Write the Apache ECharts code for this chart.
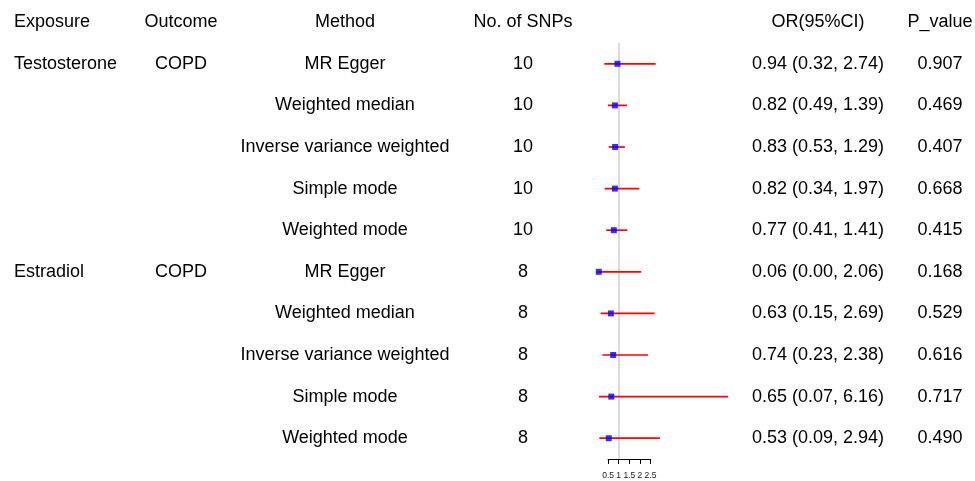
<!DOCTYPE html>
<html>
<head>
<meta charset="utf-8">
<script src="https://cdn.jsdelivr.net/npm/echarts@6/dist/echarts.min.js"></script>
<style>html,body{margin:0;padding:0;background:#fff}#c{width:975px;height:481px}</style>
</head>
<body>
<div id="c"></div>
<script>
const headers = ['Exposure', 'Outcome', 'Method', 'No. of SNPs', 'OR(95%CI)', 'P_value'];
const exposure = ['Testosterone', '', '', '', '', 'Estradiol', '', '', '', ''];
const outcome = ['COPD', '', '', '', '', 'COPD', '', '', '', ''];
const method = ['MR Egger', 'Weighted median', 'Inverse variance weighted', 'Simple mode', 'Weighted mode',
                'MR Egger', 'Weighted median', 'Inverse variance weighted', 'Simple mode', 'Weighted mode'];
const nsnp = ['10', '10', '10', '10', '10', '8', '8', '8', '8', '8'];
const orVal = [0.94, 0.82, 0.83, 0.82, 0.77, 0.06, 0.63, 0.74, 0.65, 0.53];
const ciLow = [0.32, 0.49, 0.53, 0.34, 0.41, 0.00, 0.15, 0.23, 0.07, 0.09];
const ciHigh = [2.74, 1.39, 1.29, 1.97, 1.41, 2.06, 2.69, 2.38, 6.16, 2.94];
const pval = ['0.907', '0.469', '0.407', '0.668', '0.415', '0.168', '0.529', '0.616', '0.717', '0.490'];
const xTicks = [0.5, 1, 1.5, 2, 2.5];

const orText = orVal.map((v, i) => v.toFixed(2) + ' (' + ciLow[i].toFixed(2) + ', ' + ciHigh[i].toFixed(2) + ')');
const rows = orVal.map((_, i) => String(i));

const FONT = '"Liberation Sans", Arial, Helvetica, sans-serif';
const FS = 18;

// forest panel layout (1 unit = 21.2 px, x = 0 at 597.5 px)
const X0 = 597.5, UNIT = 21.2, XMAX = 7;
const TOP = 43, HEIGHT = 416;
const gridRight = X0 + XMAX * UNIT;

function textAxis(arr, pos, anchorX, align) {
  const offset = pos === 'left' ? X0 - anchorX : anchorX - gridRight;
  return {
    type: 'category', gridIndex: 0, data: rows, inverse: true, position: pos, offset: offset,
    axisLine: {show: false}, axisTick: {show: false}, splitLine: {show: false},
    axisLabel: {
      show: true, interval: 0, margin: 0, align: align,
      formatter: (v) => arr[+v], color: '#000', fontFamily: FONT, fontSize: FS
    }
  };
}

const colX = [14, 181, 345, 523, 818, 940];
const colAlign = ['left', 'center', 'center', 'center', 'center', 'center'];

const chart = echarts.init(document.getElementById('c'), null, {renderer: 'canvas'});
chart.setOption({
  animation: false,
  backgroundColor: '#fff',
  grid: [
    {left: X0, top: TOP, width: XMAX * UNIT, height: HEIGHT},
    {left: X0 + xTicks[0] * UNIT, top: TOP, width: (xTicks[xTicks.length - 1] - xTicks[0]) * UNIT, height: HEIGHT}
  ],
  xAxis: [
    {type: 'value', gridIndex: 0, min: 0, max: XMAX, show: false},
    {type: 'value', gridIndex: 1, min: xTicks[0], max: xTicks[xTicks.length - 1], interval: 0.5,
     axisLine: {show: true, lineStyle: {color: '#000', width: 1}},
     axisTick: {show: true, length: 5, lineStyle: {color: '#000', width: 1}},
     splitLine: {show: false},
     axisLabel: {show: true, interval: 0, margin: 12, fontSize: 8.5, color: '#1a1a1a', fontFamily: FONT,
                 formatter: (v) => String(v), showMinLabel: true, showMaxLabel: true}}
  ],
  yAxis: [
    {type: 'category', gridIndex: 0, data: rows, inverse: true, show: false},
    {type: 'value', gridIndex: 1, show: false},
    textAxis(exposure, 'left', colX[0], 'left'),
    textAxis(outcome, 'left', colX[1], 'center'),
    textAxis(method, 'left', colX[2], 'center'),
    textAxis(nsnp, 'left', colX[3], 'center'),
    textAxis(orText, 'right', colX[4], 'center'),
    textAxis(pval, 'right', colX[5], 'center')
  ],
  graphic: headers.map((h, i) => ({
    type: 'text', x: colX[i], y: 22,
    style: {text: h, fill: '#000', font: FS + 'px ' + FONT, textAlign: colAlign[i], textVerticalAlign: 'middle'}
  })),
  series: [
    {
      type: 'custom', xAxisIndex: 0, yAxisIndex: 0, z: 2,
      dimensions: ['lo', 'hi', 'row'],
      data: orVal.map((v, i) => [ciLow[i], ciHigh[i], i]),
      encode: {x: ['lo', 'hi'], y: 'row'},
      renderItem: function (params, api) {
        const a = api.coord([api.value('lo'), api.value('row')]);
        const b = api.coord([api.value('hi'), api.value('row')]);
        return {type: 'line', shape: {x1: a[0], y1: a[1], x2: b[0], y2: b[1]},
                style: {stroke: '#ff0000', lineWidth: 1.7}};
      }
    },
    {
      type: 'scatter', xAxisIndex: 0, yAxisIndex: 0, z: 3,
      symbol: 'rect', symbolSize: 6,
      itemStyle: {color: '#0000ff'},
      data: orVal.map((v, i) => [v, i]),
      markLine: {
        silent: true, symbol: 'none', label: {show: false}, z: 1,
        lineStyle: {color: '#cfcfcf', width: 1.5, type: 'solid'},
        data: [{xAxis: 1}]
      }
    }
  ]
});
</script>
</body>
</html>
